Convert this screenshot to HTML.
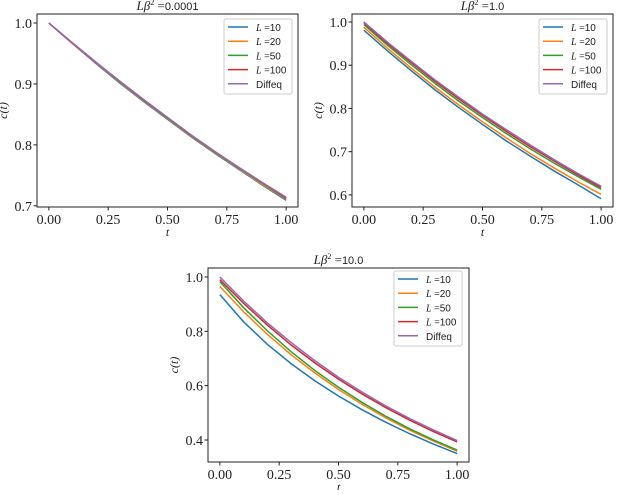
<!DOCTYPE html>
<html><head><meta charset="utf-8"><style>
body{margin:0;background:#fff}
svg text{font-family:"Liberation Serif",serif;fill:#222}
.sans{font-family:"Liberation Sans",sans-serif !important}
</style></head><body>
<svg id="c" width="640" height="490"></svg>
<script>
const tValues=[0,0.1,0.2,0.3,0.4,0.5,0.6,0.7,0.8,0.9,1.0];
const seriesNames=["L =10","L =20","L =50","L =100","Diffeq"];
const seriesColors=["#1f77b4","#ff7f0e","#2ca02c","#d62728","#9467bd"];
const xTickLabels=["0.00","0.25","0.50","0.75","1.00"];
const xTickValues=[0,0.25,0.5,0.75,1];
const p1Title="0.0001";
const p1L10=[1,.966,.933,.901,.871,.842,.813,.786,.760,.734,.709];
const p1L20=[1,.966,.934,.902,.872,.843,.814,.787,.761,.735,.711];
const p1L50=[1,.967,.935,.903,.873,.844,.815,.788,.762,.737,.712];
const p1L100=[1,.967,.935,.904,.874,.845,.816,.789,.763,.738,.713];
const p1Diff=[1,.967,.935,.904,.874,.845,.816,.789,.763,.738,.714];
const p1YTicks=[0.7,0.8,0.9,1.0];
const p2Title="1.0";
const p2L10=[.981,.933,.887,.843,.802,.763,.725,.690,.656,.624,.591];
const p2L20=[.988,.939,.893,.849,.808,.769,.732,.696,.663,.631,.601];
const p2L50=[.994,.946,.901,.858,.817,.779,.742,.707,.674,.643,.613];
const p2L100=[.998,.950,.906,.863,.822,.784,.747,.712,.679,.647,.617];
const p2Diff=[1,.953,.909,.866,.826,.787,.751,.716,.682,.650,.620];
const p2YTicks=[0.6,0.7,0.8,0.9,1.0];
const p3Title="10.0";
const p3L10=[.935,.835,.752,.681,.618,.562,.511,.465,.423,.385,.350];
const p3L20=[.965,.872,.789,.714,.647,.586,.531,.481,.436,.396,.359];
const p3L50=[.983,.887,.802,.725,.656,.594,.538,.487,.441,.400,.363];
const p3L100=[.99,.903,.823,.750,.684,.624,.569,.519,.473,.431,.393];
const p3Diff=[1,.912,.831,.759,.692,.631,.576,.525,.479,.437,.398];
const p3YTicks=[0.4,0.6,0.8,1.0];

const NS="http://www.w3.org/2000/svg";
const svg=document.getElementById('c');
function mk(tag,attrs,parent){const e=document.createElementNS(NS,tag);for(const k in attrs)e.setAttribute(k,attrs[k]);(parent||svg).appendChild(e);return e;}

function panel(id,box,yMin,yMax,yTicks,yFmt,series,title,leg){
  const g=mk('g',{});
  
  
  const xs=v=>box.l+(v+0.05)/1.1*(box.r-box.l);
  const ys=v=>box.b-(v-yMin)/(yMax-yMin)*(box.b-box.t);
  series.forEach((s,i)=>{
    const d=s.map((v,j)=>(j?'L':'M')+xs(tValues[j]).toFixed(2)+','+ys(v).toFixed(2)).join('');
    const p=mk('path',{d:d,fill:'none',stroke:seriesColors[i],'stroke-width':1.5},g);
    
    
  });
  const fr=mk('rect',{x:box.l,y:box.t,width:box.r-box.l,height:box.b-box.t,fill:'none',stroke:'#222','stroke-width':1},g);
  
  
  xTickValues.forEach((v,i)=>{
    const x=xs(v);
    mk('line',{x1:x,x2:x,y1:box.b,y2:box.b+3.5,stroke:'#222'},g);
    const t=mk('text',{x:x,y:box.b+17,'text-anchor':'middle','font-size':14},g);
    t.textContent=xTickLabels[i];
    
    
  });
  yTicks.forEach(v=>{
    const y=ys(v);
    mk('line',{x1:box.l-3.5,x2:box.l,y1:y,y2:y,stroke:'#222'},g);
    const t=mk('text',{x:box.l-5,y:y+5,'text-anchor':'end','font-size':14},g);
    t.textContent=v.toFixed(yFmt);
    
    
  });
  const xl=mk('text',{x:(box.l+box.r)/2,y:box.b+29,'text-anchor':'middle','font-size':12,'font-style':'italic'},g);
  xl.textContent='t';
  
  
  const yx=box.l-30, yy=(box.t+box.b)/2;
  const yl=mk('text',{x:yx,y:yy,'text-anchor':'middle','font-size':12,'font-style':'italic',transform:`rotate(-90 ${yx} ${yy})`},g);
  yl.textContent='c(t)';
  
  
  const tt=mk('text',{x:(box.l+box.r)/2,y:box.t-4,'text-anchor':'middle','font-size':13},g);
  tt.innerHTML='<tspan font-style="italic">Lβ</tspan><tspan dy="-5" font-size="8">2</tspan><tspan dy="5"> =</tspan><tspan class="sans" font-size="11">'+title+'</tspan>';
  
  
  const lg=mk('g',{},g);
  
  
  mk('rect',{x:leg.x,y:leg.y,width:68,height:75,rx:2,fill:'#fff',stroke:'#ccc'},lg);
  seriesNames.forEach((n,i)=>{
    const y=leg.y+8+i*14.2;
    mk('line',{x1:leg.x+4,x2:leg.x+24,y1:y,y2:y,stroke:seriesColors[i],'stroke-width':1.5},lg);
    const t=mk('text',{x:leg.x+32,y:y+4,'font-size':10},lg);
    if(i<4){const parts=n.split('=');t.innerHTML='<tspan font-style="italic">L</tspan> =<tspan class="sans">'+parts[1]+'</tspan>';}
    else{t.textContent=n;t.setAttribute('class','sans');}
    
    
  });
}
panel('panel-beta-0001',{l:37,r:298,t:14,b:207},0.698,1.0148,p1YTicks,1,[p1L10,p1L20,p1L50,p1L100,p1Diff],p1Title,{x:224,y:19});
panel('panel-beta-1',{l:352,r:613,t:14,b:207},0.572,1.0185,p2YTicks,1,[p2L10,p2L20,p2L50,p2L100,p2Diff],p2Title,{x:539,y:19});
panel('panel-beta-10',{l:208,r:469,t:268,b:462},0.319,1.033,p3YTicks,1,[p3L10,p3L20,p3L50,p3L100,p3Diff],p3Title,{x:394,y:271});
</script>
</body></html>
